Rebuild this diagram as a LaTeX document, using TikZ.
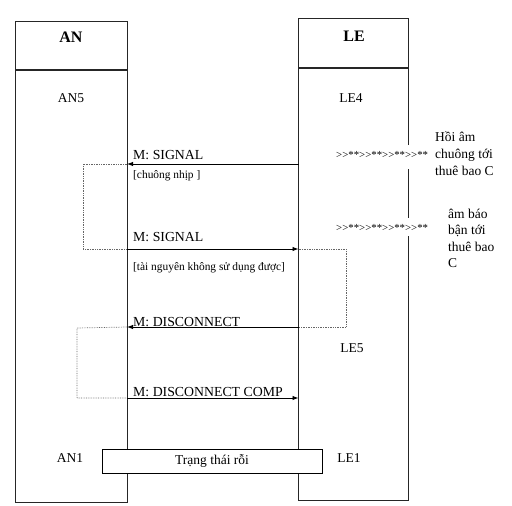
\documentclass[tikz,border=0pt]{standalone}
\usepackage{fontspec}
\setmainfont{Liberation Serif}
\usetikzlibrary{arrows.meta}
\newcommand{\tonerow}{>{}>**>{}>**>{}>**>{}>**}
\begin{document}
\begin{tikzpicture}[x=1pt,y=-1pt,
  boxline/.style={line width=1.1pt,black!85},
  lifebox/.style={draw=none,minimum width=#1,inner sep=0pt},
  hdr/.style={font=\fontsize{16}{18}\selectfont\bfseries},
  lbl/.style={font=\fontsize{13.5}{16}\selectfont,inner sep=0pt},
  msg/.style={font=\fontsize{13.8}{16}\selectfont,inner sep=0pt,anchor=base west},
  note/.style={font=\fontsize{11.4}{13}\selectfont,inner sep=0pt,anchor=base west},
  side/.style={font=\fontsize{13.5}{16}\selectfont,inner sep=0pt,anchor=base west},
  tone/.style={font=\fontsize{10.8}{12}\selectfont,inner sep=0pt,anchor=base west},
  arr/.style={line width=0.9pt,-{Latex[length=6pt,width=4.5pt]}},
  loop/.style={densely dotted,line width=0.7pt,black!60},
  statebox/.style={draw,line width=1pt,fill=white,minimum width=220pt,minimum height=24pt,inner sep=0pt,font=\fontsize{13.5}{16}\selectfont}]
\useasboundingbox (0,0) rectangle (512,506);
% lifeline boxes
\node[lifebox=111pt,minimum height=480pt] (anbox) at (71.5,262) {};
\node[lifebox=109.5pt,minimum height=481pt] (lebox) at (353.25,259.5) {};
\coordinate (yAN) at (0,70);
\coordinate (yLE) at (0,68);
\coordinate (gAt) at (0,145);
\coordinate (gAb) at (0,169);
\coordinate (gBt) at (0,218);
\coordinate (gBb) at (0,236);
\draw[boxline] (anbox.north west) rectangle (anbox.south east);
\draw[boxline] (anbox.west |- yAN) -- (anbox.east |- yAN);
\draw[boxline] (lebox.east |- gAt) -- (lebox.north east) -- (lebox.north west)
  -- (lebox.south west) -- (lebox.south east) -- (lebox.east |- gBb);
\draw[boxline] (lebox.east |- gAb) -- (lebox.east |- gBt);
\draw[boxline] (lebox.west |- yLE) -- (lebox.east |- yLE);
% headers and states
\node[hdr] (anh) at (71,37) {AN};
\node[hdr] (leh) at (354,36) {LE};
\node[lbl] (an5) at (71,98) {AN5};
\node[lbl] (le4) at (351,98) {LE4};
\node[lbl] (le5) at (352,348) {LE5};
\node[lbl] (an1) at (70,458) {AN1};
\node[lbl] (le1) at (349,458) {LE1};
% message end points
\coordinate (les1) at (298.5,164);
\coordinate (ans1) at (127,164);
\coordinate (ans2) at (127,249);
\coordinate (les2) at (298.5,249);
\coordinate (led1) at (298.5,327);
\coordinate (and1) at (127,327);
\coordinate (and2) at (127,398);
\coordinate (led2) at (298.5,398);
\coordinate (l1a) at (83,164);
\coordinate (l1b) at (83,249);
\coordinate (l2a) at (346,249);
\coordinate (l2b) at (346,327);
\coordinate (l3a) at (77,328);
\coordinate (l3b) at (77,398);
% dotted loops
\draw[loop] (ans1) -- (l1a) -- (l1b) -- (ans2);
\draw[loop] (les2) -- (l2a) -- (l2b) -- (led1);
\draw[loop] (and1) -- (l3a) -- (l3b) -- (and2);
% messages
\draw[arr] (les1) -- (ans1);
\draw[arr] (ans2) -- (les2);
\draw[arr] (led1) -- (and1);
\draw[arr] (and2) -- (led2);
\node[msg] (m1) at (133,159) {M: SIGNAL};
\node[note] (n1) at (133,178) {[chuông nhịp ]};
\node[msg] (m2) at (133,241) {M: SIGNAL};
\node[note] (n2) at (133,270) {[tài nguyên không sử dụng được]};
\node[msg] (m3) at (133,326) {M: DISCONNECT};
\node[msg] (m4) at (133,396) {M: DISCONNECT COMP};
% tones
\node[tone] (t1) at (336,158) {\tonerow};
\node[tone] (t2) at (336,231) {\tonerow};
\node[side] (h1) at (435,141) {Hồi âm};
\node[side] (h2) at (435,158) {chuông tới};
\node[side] (h3) at (435,175) {thuê bao C};
\node[side] (b1) at (448,218) {âm báo};
\node[side] (b2) at (448,234.5) {bận tới};
\node[side] (b3) at (448,251) {thuê bao};
\node[side] (b4) at (448,267.5) {C};
% idle state
\node[statebox] (idle) at (212,461) {Trạng thái rỗi};
\end{tikzpicture}
\end{document}
